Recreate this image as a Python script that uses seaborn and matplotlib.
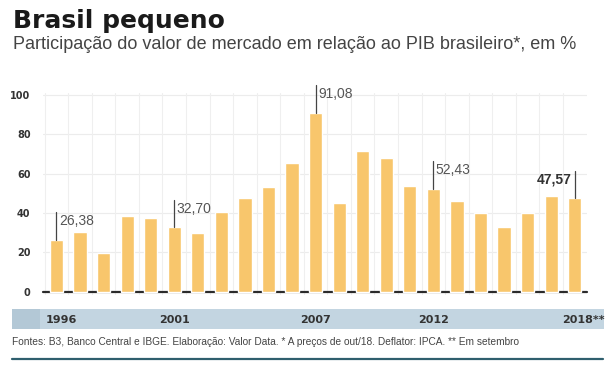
import matplotlib
matplotlib.use("Agg")
import matplotlib.pyplot as plt
import seaborn as sns
import pandas as pd

# dados (% do PIB)
anos = [str(a) for a in range(1996, 2019)]
valores = [26.38, 30.5, 19.8, 38.5, 37.6, 32.70, 30.0, 40.4, 47.5, 53.0, 65.6,
           91.08, 44.9, 71.7, 67.8, 53.7, 52.43, 46.3, 39.8, 32.7, 39.8, 48.8, 47.57]
destaques = {"1996": "26,38", "2001": "32,70", "2007": "91,08",
             "2012": "52,43", "2018": "47,57"}
rotulos_x = {"1996": "1996", "2001": "2001", "2007": "2007",
             "2012": "2012", "2018": "2018**"}
yticks = [0, 20, 40, 60, 80, 100]

df = pd.DataFrame({"ano": anos, "valor": valores})

sns.set_style("white")
plt.rcParams["font.family"] = ["Liberation Sans", "DejaVu Sans"]

W, H = 608, 366
fig = plt.figure(figsize=(W / 100, H / 100), dpi=100)


def ajusta_largura(txt, largura_px):
    # encolhe a fonte ate o texto caber na largura do original
    r = fig.canvas.get_renderer()
    w = txt.get_window_extent(renderer=r).width
    txt.set_fontsize(txt.get_fontsize() * largura_px / w)


# eixo principal
x0, x1 = 43, 587
y_top, y_bot = 93.0, 294.65
ax = fig.add_axes([x0 / W, 1 - y_bot / H, (x1 - x0) / W, (y_bot - y_top) / H])

sns.barplot(data=df, x="ano", y="valor", color="#f8c66c", width=0.56,
            saturation=1, ax=ax, zorder=3)
ax.set_xlim(-0.57, 22.52)
ax.set_ylim(-1.5, 101)
ax.axhline(0, color="#2b2b2b", lw=1.6, zorder=2, clip_on=False)

for y in yticks[1:]:
    ax.axhline(y, color="#ececec", lw=0.8, zorder=1)
for i in range(len(anos) - 1):
    ax.axvline(i + 0.5, color="#efefef", lw=0.8, zorder=1)
ax.axvline(-0.5, color="#efefef", lw=0.8, zorder=1)

ax.set_yticks(yticks)
ax.set_yticklabels([str(v) for v in yticks], fontsize=7, fontweight="bold",
                   color="#333333", family="DejaVu Sans")
ax.tick_params(axis="y", length=0, pad=9)
ax.set_xticks([])
ax.set_xlabel("")
ax.set_ylabel("")
sns.despine(ax=ax, left=True, bottom=True, top=True, right=True)

# rotulos com linha de chamada
for i, ano in enumerate(anos):
    if ano not in destaques:
        continue
    v = valores[i]
    topo = v + 14
    ax.plot([i, i], [v, topo], color="#444444", lw=0.9, zorder=4, clip_on=False)
    if ano == "2018":
        ax.text(i - 0.15, topo - 4.5, destaques[ano], ha="right", va="center",
                fontsize=10, fontweight="bold", color="#333333", zorder=5)
    else:
        ax.text(i + 0.1, topo - 4.5, destaques[ano], ha="left", va="center",
                fontsize=10, color="#555555", zorder=5, clip_on=False)

# faixa dos anos
band = fig.add_axes([12 / W, 1 - 329 / H, (604 - 12) / W, 20 / H])
band.set_facecolor("#c3d5e1")
band.set_xticks([])
band.set_yticks([])
for s in band.spines.values():
    s.set_visible(False)
band.axvspan(0, 28 / 592, color="#b3c8d6", lw=0)
band.set_xlim(0, 1)
band.set_ylim(0, 1)

for i, ano in enumerate(anos):
    if ano in rotulos_x:
        px = x0 + (i + 0.57) / (22.52 + 0.57) * (x1 - x0)
        if ano == "2018":
            px += 9
        if ano == "1996":
            px += 5
        fig.text(px / W, 1 - 320 / H, rotulos_x[ano], ha="center", va="center",
                 fontsize=8, fontweight="bold", color="#333333", family="DejaVu Sans")

# titulos
fig.text(13 / W, 1 - 28 / H, "Brasil pequeno", ha="left", va="baseline",
         fontsize=18, fontweight="bold", color="#1a1a1a", family="DejaVu Sans")
sub = fig.text(13 / W, 1 - 49 / H,
               "Participação do valor de mercado em relação ao PIB brasileiro*, em %",
               ha="left", va="baseline", fontsize=13, color="#444444")
ajusta_largura(sub, 560)

# rodape
rod = fig.text(12 / W, 1 - 342 / H,
               "Fontes: B3, Banco Central e IBGE. Elaboração: Valor Data. * A preços de out/18. "
               "Deflator: IPCA. ** Em setembro",
               ha="left", va="center", fontsize=7, color="#444444")
ajusta_largura(rod, 506)
fig.add_artist(plt.Line2D([12 / W, 603 / W], [1 - 358.5 / H, 1 - 358.5 / H],
                          color="#2f5f6e", lw=1.6))

fig.savefig("out.png", dpi=100)
